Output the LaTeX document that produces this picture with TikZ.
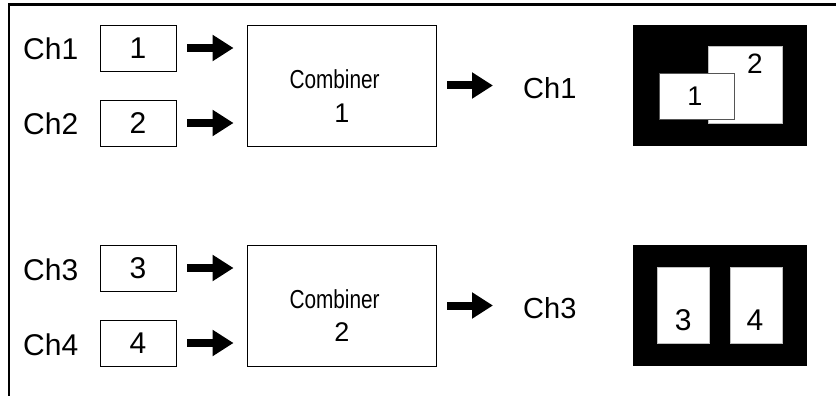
\documentclass[tikz,border=0pt]{standalone}
\usepackage{fontspec}
\setmainfont{Liberation Sans}
\usetikzlibrary{arrows.meta}
\tikzset{
  fs/.style={font=\fontsize{#1}{#1}\selectfont},
  lbl/.style={inner sep=0, anchor=base west},
  dig/.style={inner sep=0, anchor=base},
  chbox/.style={draw, line width=0.9, minimum width=76, minimum height=46, inner sep=0, fs=30},
  combbox/.style={draw, line width=0.9, minimum width=189, minimum height=121, inner sep=0},
  blockarr/.style={line width=8, -{Triangle[length=21pt,width=25pt]}},
  screen/.style={fill=black, inner sep=0},
  win/.style={fill=white, inner sep=0, draw=gray!50, line width=0.6},
  winfront/.style={fill=white, inner sep=0, draw={rgb,255:red,85;green,85;blue,85}, line width=1.1},
}
\begin{document}
\begin{tikzpicture}[x=1pt,y=-1pt]
\useasboundingbox (0,0) rectangle (836,396);
% frame
\draw[line width=2.5] (9,396) -- (9,4.7) -- (836,4.7);

% ---------- group 1 ----------
\node[lbl, fs=30] (ch1) at (23,60) {Ch1};
\node[lbl, fs=30] (ch2) at (23,135) {Ch2};
\node[chbox] (b1) at (138,48) {1};
\node[chbox] (b2) at (138,123) {2};
\node[combbox] (c1) at (341.5,85.5) {};
\node[dig, fs=26] (c1t) at (334.6,88.3) {\scalebox{0.8}[1]{Combiner}};
\node[dig, fs=27] (c1n) at (342,122.7) {1};
\draw[blockarr, shorten <=11pt, shorten >=13pt] (b1.east) -- (b1.east -| c1.west);
\draw[blockarr, shorten <=11pt, shorten >=13pt] (b2.east) -- (b2.east -| c1.west);
\coordinate (o1) at (493,85.5);
\draw[blockarr, shorten <=11pt] (c1.east) -- (o1);
\node[lbl, fs=29] (out1) at (523,98.3) {Ch1};
% screen 1
\path[screen] (633,25) rectangle (807,146);
\node[win, minimum width=74, minimum height=76.6] (w2) at (745.2,85) {};
\node[winfront, minimum width=75.3, minimum height=45.7] (w1) at (696.7,96.2) {};
\node[dig, fs=28] (w2t) at (755,73.3) {2};
\node[dig, fs=27] (w1t) at (695,106) {1};

% ---------- group 2 ----------
\node[lbl, fs=30] (ch3) at (23,280) {Ch3};
\node[lbl, fs=30] (ch4) at (23,355) {Ch4};
\node[chbox] (b3) at (138,268) {3};
\node[chbox] (b4) at (138,343) {4};
\node[combbox] (c2) at (341.5,305.5) {};
\node[dig, fs=26] (c2t) at (334.6,308.3) {\scalebox{0.8}[1]{Combiner}};
\node[dig, fs=27] (c2n) at (342,341.7) {2};
\draw[blockarr, shorten <=11pt, shorten >=13pt] (b3.east) -- (b3.east -| c2.west);
\draw[blockarr, shorten <=11pt, shorten >=13pt] (b4.east) -- (b4.east -| c2.west);
\coordinate (o2) at (493,305.5);
\draw[blockarr, shorten <=11pt] (c2.east) -- (o2);
\node[lbl, fs=29] (out2) at (523,318) {Ch3};
% screen 2
\path[screen] (633,245) rectangle (807,366);
\node[win, minimum width=52, minimum height=76] (w3) at (683,305) {};
\node[win, minimum width=52, minimum height=76] (w4) at (756,305) {};
\node[dig, fs=30] (w3t) at (683.3,330) {3};
\node[dig, fs=30] (w4t) at (755,330) {4};
\end{tikzpicture}
\end{document}
